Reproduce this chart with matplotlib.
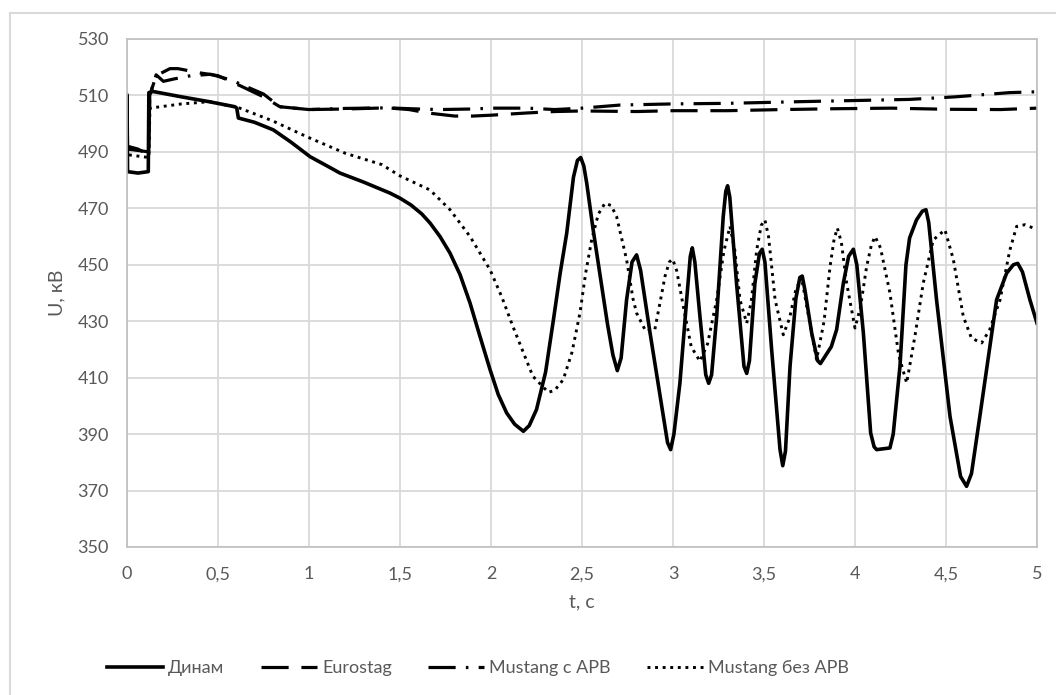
import numpy as np
import matplotlib
matplotlib.use('Agg')
import matplotlib.pyplot as plt
from matplotlib.lines import Line2D

# -----------------------------------------------------------------------------------------
# data (t in seconds, U in kV)
# -----------------------------------------------------------------------------------------
t_dinam = [0.000, 0.003, 0.060, 0.117, 0.120, 0.143, 0.300, 0.450, 0.593, 0.603, 0.612,
           0.700, 0.804, 0.900, 1.006, 1.100, 1.170, 1.300, 1.445, 1.500, 1.560, 1.620,
           1.665, 1.720, 1.775, 1.830, 1.885, 1.940, 1.995, 2.040, 2.086, 2.130, 2.178,
           2.210, 2.250, 2.300, 2.343, 2.380,
           2.416, 2.453, 2.475, 2.493, 2.510, 2.526, 2.560, 2.600, 2.640, 2.670, 2.694,
           2.715, 2.745, 2.775, 2.800, 2.822, 2.874, 2.947, 2.970, 2.987, 3.005, 3.038,
           3.075, 3.095, 3.106, 3.120, 3.148, 3.180, 3.196, 3.212, 3.240, 3.276, 3.290,
           3.300, 3.312, 3.349, 3.390, 3.405, 3.420, 3.450, 3.475, 3.490, 3.505, 3.542,
           3.588, 3.603, 3.618, 3.643, 3.675, 3.697, 3.710, 3.725, 3.762, 3.795, 3.810,
           3.830, 3.870, 3.899, 3.936, 3.965, 3.991, 4.010, 4.046, 4.086, 4.105, 4.119,
           4.192, 4.210, 4.247, 4.280, 4.300, 4.338, 4.370, 4.390, 4.405, 4.448, 4.522,
           4.580, 4.613, 4.640, 4.686, 4.778, 4.833, 4.870, 4.894, 4.920, 4.961, 5.000]
u_dinam = [510.0, 483.0, 482.5, 483.0, 511.0, 511.4, 509.5, 507.8, 506.0, 505.5, 502.0,
           500.5, 497.8, 493.5, 488.3, 485.0, 482.5, 479.3, 475.4, 473.6, 471.2, 468.0,
           464.8, 460.0, 454.1, 446.5, 436.4, 424.5, 412.8, 404.0, 397.5, 393.5, 391.0,
           393.0, 398.7, 412.0, 430.5, 447.0,
           461.2, 481.0, 487.0, 488.0, 485.0, 478.9, 463.0, 446.0, 429.0, 418.0, 412.5,
           417.0, 437.6, 451.0, 453.5, 448.0, 425.8, 396.3, 387.0, 384.5, 390.0, 408.1,
           437.6, 453.0, 456.0, 451.0, 431.7, 411.0, 408.0, 411.0, 431.7, 467.1, 476.0,
           478.0, 474.0, 443.5, 414.0, 411.5, 416.0, 443.5, 454.0, 455.5, 451.0, 419.9,
           384.5, 378.8, 384.0, 414.0, 438.0, 445.5, 446.0, 441.0, 425.8, 416.0, 415.0,
           417.0, 421.0, 427.0, 443.5, 453.0, 455.5, 450.0, 425.8, 390.4, 385.5, 384.5,
           385.1, 390.0, 414.0, 450.0, 459.5, 465.9, 469.0, 469.5, 465.0, 437.6, 396.3,
           375.0, 371.5, 376.0, 396.3, 437.6, 447.0, 450.0, 450.5, 447.5, 437.6, 429.3]

t_eurostag = [0.000, 0.003, 0.060, 0.120, 0.125, 0.160, 0.236, 0.280, 0.400, 0.500, 0.620,
              0.750, 0.840, 1.000, 1.200, 1.430, 1.550, 1.650, 1.800, 1.900, 2.000, 2.200,
              2.350, 2.500, 2.800, 3.000, 3.300, 3.600, 3.900, 4.200, 4.500, 4.800, 5.000]
u_eurostag = [510.0, 492.0, 491.0, 489.0, 510.0, 517.0, 519.5, 519.5, 518.0, 517.0, 513.5,
              509.5, 506.0, 505.0, 505.2, 505.6, 505.0, 503.8, 502.7, 502.7, 503.0, 503.8,
              504.3, 504.5, 504.3, 504.6, 504.6, 505.0, 505.3, 505.5, 505.1, 505.0, 505.5]

t_mustang_arv = [0.000, 0.003, 0.120, 0.125, 0.160, 0.200, 0.255, 0.350, 0.460, 0.570, 0.750,
                 0.840, 1.000, 1.200, 1.430, 1.600, 1.720, 1.900, 2.000, 2.200, 2.350, 2.500,
                 2.710, 3.000, 3.300, 3.500, 3.700, 4.000, 4.300, 4.550, 4.850, 5.000]
u_mustang_arv = [510.0, 491.0, 490.0, 510.0, 517.3, 515.0, 515.8, 517.0, 517.5, 515.5, 510.5,
                 506.0, 505.0, 505.4, 505.6, 505.2, 505.0, 505.2, 505.5, 505.5, 505.0, 505.5,
                 506.6, 507.0, 507.2, 507.5, 507.8, 508.2, 508.6, 509.5, 511.0, 511.3]

t_mustang_no_arv = [0.000, 0.003, 0.120, 0.126, 0.300, 0.456, 0.620, 0.800, 0.987, 1.200,
                    1.400, 1.500, 1.665, 1.775, 1.885, 1.995, 2.060, 2.120, 2.230, 2.315,
                    2.350, 2.397, 2.445, 2.489, 2.520, 2.553, 2.590, 2.626, 2.660, 2.690,
                    2.745, 2.780, 2.800, 2.850, 2.900, 2.930, 2.956, 2.980, 2.998, 3.020,
                    3.057, 3.100, 3.148, 3.190, 3.240, 3.280, 3.313, 3.340, 3.368, 3.405,
                    3.430, 3.460, 3.485, 3.505, 3.525, 3.561, 3.606, 3.640, 3.679, 3.710,
                    3.750, 3.789, 3.830, 3.863, 3.885, 3.903, 3.925, 3.954, 4.000, 4.030,
                    4.064, 4.090, 4.110, 4.140, 4.192, 4.240, 4.284, 4.330, 4.375, 4.430,
                    4.494, 4.540, 4.595, 4.640, 4.696, 4.740, 4.797, 4.850, 4.888, 4.934,
                    4.980]
u_mustang_no_arv = [510.0, 489.0, 488.0, 505.5, 507.0, 507.8, 505.5, 501.0, 495.4, 489.5,
                    485.5, 481.5, 476.5, 469.5, 460.0, 448.2, 438.5, 428.2, 410.5, 404.8,
                    405.5, 409.3, 419.0, 433.0, 447.0, 458.8, 468.0, 471.8, 471.0, 467.1,
                    451.8, 438.0, 432.9, 426.5, 427.0, 437.0, 445.9, 451.0, 452.0, 448.0,
                    435.2, 421.0, 415.8, 422.0, 437.6, 455.0, 463.6, 455.0, 437.6, 429.3,
                    437.0, 455.3, 464.0, 465.9, 460.0, 437.6, 425.2, 431.0, 442.3, 444.1,
                    430.0, 416.4, 430.0, 449.4, 459.0, 463.0, 458.0, 443.5, 427.6, 435.0,
                    449.4, 457.0, 460.0, 456.0, 440.0, 418.0, 408.1, 425.0, 443.5, 458.8,
                    462.4, 452.0, 431.7, 424.0, 422.3, 427.0, 437.6, 455.0, 463.6, 464.2,
                    463.0]

series_names = ['Динам', 'Eurostag', 'Mustang с АРВ', 'Mustang без АРВ']

x_ticks = [0, 0.5, 1, 1.5, 2, 2.5, 3, 3.5, 4, 4.5, 5]
x_tick_labels = ['0', '0,5', '1', '1,5', '2', '2,5', '3', '3,5', '4', '4,5', '5']
y_ticks = [350, 370, 390, 410, 430, 450, 470, 490, 510, 530]

# -----------------------------------------------------------------------------------------
# style
# -----------------------------------------------------------------------------------------
plt.rcParams['font.family'] = ['Lato', 'DejaVu Sans']
text_color = '#595959'
grid_color = '#d9d9d9'
W, H = 1056, 695

fig = plt.figure(figsize=(W / 100, H / 100), dpi=100)
ax = fig.add_axes([127 / W, 1 - 547 / H, (1037 - 127) / W, (547 - 39) / H])

l1, = ax.plot(t_dinam, u_dinam, c='black', lw=2.6, solid_joinstyle='round')
l2, = ax.plot(t_eurostag, u_eurostag, c='black', lw=2.3, dashes=(8.5, 4))
l3, = ax.plot(t_mustang_arv, u_mustang_arv, c='black', lw=2.3, dashes=(8.5, 3.2, 0.8, 3.2))
l4, = ax.plot(t_mustang_no_arv, u_mustang_no_arv, c='black', lw=2.1, dashes=(1, 1.6))

ax.set_xlim(0, 5)
ax.set_ylim(350, 530)
ax.set_xticks(x_ticks)
ax.set_xticklabels(x_tick_labels)
ax.set_yticks(y_ticks)
ax.grid(True, color=grid_color, lw=1.3)
ax.set_axisbelow(True)
for s in ax.spines.values():
    s.set_color('#bfbfbf')
    s.set_linewidth(1.2)
ax.tick_params(length=0, labelsize=13, labelcolor=text_color)
ax.tick_params(axis='x', pad=14)
ax.tick_params(axis='y', pad=13)

ax.set_xlabel('t, c', fontsize=14, color=text_color, labelpad=8)
ax.set_ylabel('U, кВ', fontsize=14, color=text_color, labelpad=9)

leg = fig.legend([l1, l2, l3, l4], series_names, loc='center', ncol=4,
                 bbox_to_anchor=(478 / W, 1 - 668 / H), frameon=False,
                 fontsize=13, handlelength=3.1, handletextpad=0.3, columnspacing=2.0)
for txt in leg.get_texts():
    txt.set_color(text_color)

# chart area border (only left and top edges visible in the reference)
fig.add_artist(Line2D([10 / W, 10 / W], [0, 1 - 13 / H], color=grid_color, lw=1.5))
fig.add_artist(Line2D([10 / W, 1], [1 - 13 / H, 1 - 13 / H], color=grid_color, lw=1.5))

plt.savefig('out.png', dpi=100)
